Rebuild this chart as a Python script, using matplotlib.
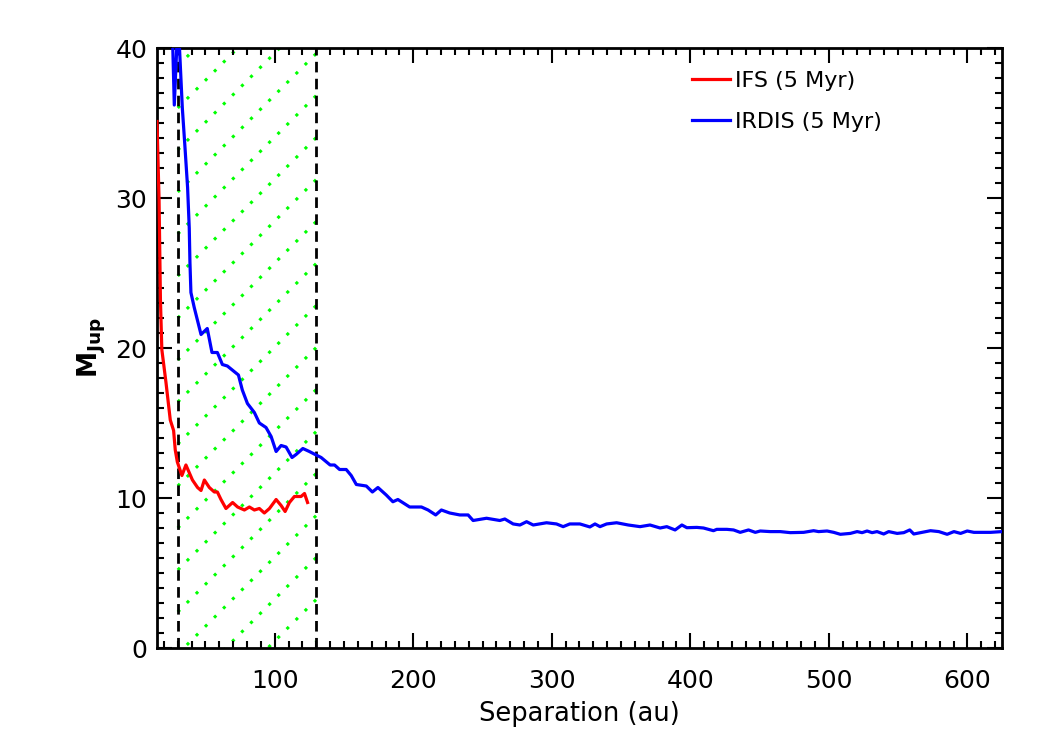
import numpy as np
import matplotlib
matplotlib.use('Agg')
import matplotlib.pyplot as plt

# courbe IFS (5 Myr) - separation en au, masse en M_Jup
ifs_sep = [15.0, 16.5, 17.5, 18.5, 21.5, 24.6, 27.0, 28.2, 29.7, 33.0, 35.9, 40.6, 44.3,
           46.8, 49.2, 52.8, 56.4, 58.6, 61.2, 64.8, 69.6, 73.2, 78.1, 81.7, 85.3, 88.9,
           92.5, 96.2, 101.0, 104.6, 107.5, 110.6, 114.2, 119.0, 121.5, 123.7]
ifs_mass = [35.1, 29.9, 23.2, 19.9, 17.7, 15.2, 14.5, 13.2, 12.4, 11.5, 12.2, 11.2, 10.7,
            10.5, 11.2, 10.7, 10.4, 10.4, 9.9, 9.3, 9.7, 9.4, 9.2, 9.4, 9.2, 9.3,
            9.0, 9.3, 9.9, 9.5, 9.1, 9.7, 10.1, 10.1, 10.3, 9.7]

# courbe IRDIS (5 Myr)
irdis_sep = [26.0, 27.5, 29.5, 31.0, 33.3, 35.2, 37.1, 38.3, 38.8, 39.5, 41.9, 46.8, 51.3,
             54.7, 58.6, 62.2, 65.8, 73.8, 76.6, 80.3, 85.3, 88.9, 93.7, 97.4, 101.0,
             104.6, 108.2, 112.5, 115.4, 120.3, 125.0, 129.2, 133.5, 140.0, 143.2, 146.8,
             151.6, 155.2, 158.9, 166.1, 170.5, 174.5, 180.5, 185.3, 188.9, 197.4, 205.9,
             210.7, 216.2, 220.3, 226.3, 233.6, 239.6, 243.2, 252.9, 262.5, 266.1, 272.1,
             277.0, 281.8, 286.6, 296.2, 303.4, 308.2, 313.0, 320.3, 327.5, 331.2, 334.8,
             339.6, 346.8, 355.2, 363.7, 370.9, 378.2, 383.0, 389.0, 393.9, 397.5, 404.7,
             409.5, 416.7, 419.1, 426.4, 431.2, 436.0, 442.0, 446.9, 450.5, 457.7, 464.9,
             472.2, 481.8, 489.0, 492.6, 498.7, 503.5, 508.3, 515.5, 520.4, 524.0, 527.6,
             531.2, 534.8, 539.6, 543.2, 549.3, 554.1, 558.4, 561.3, 566.2, 573.4, 579.4,
             585.4, 590.3, 595.1, 599.9, 604.7, 609.5, 616.8, 625.0]
irdis_mass = [41.5, 36.2, 40.5, 40.5, 36.0, 33.4, 30.7, 28.0, 25.7, 23.7, 22.7, 20.9, 21.3,
              19.7, 19.7, 18.9, 18.8, 18.2, 17.2, 16.3, 15.7, 15.0, 14.7, 14.1, 13.1,
              13.5, 13.4, 12.7, 12.9, 13.3, 13.1, 12.9, 12.7, 12.2, 12.2, 11.9,
              11.9, 11.5, 10.9, 10.8, 10.4, 10.7, 10.2, 9.75, 9.9, 9.4, 9.4,
              9.2, 8.87, 9.2, 9.0, 8.87, 8.87, 8.5, 8.65, 8.5, 8.6, 8.27,
              8.2, 8.42, 8.2, 8.35, 8.27, 8.09, 8.27, 8.27, 8.07, 8.27, 8.09,
              8.27, 8.35, 8.2, 8.09, 8.2, 8.0, 8.09, 7.87, 8.2, 8.02, 8.04,
              8.0, 7.82, 7.91, 7.91, 7.87, 7.71, 7.87, 7.71, 7.8, 7.76, 7.76,
              7.69, 7.71, 7.82, 7.76, 7.8, 7.71, 7.58, 7.64, 7.76, 7.69, 7.8,
              7.69, 7.76, 7.6, 7.76, 7.64, 7.69, 7.87, 7.6, 7.69, 7.82, 7.76,
              7.58, 7.76, 7.64, 7.8, 7.71, 7.71, 7.71, 7.76]

# zone hachuree entre les deux separations limites
zone = [30, 130]
x_lim = [15, 625]
y_lim = [0, 40]

fig = plt.figure(figsize=(10.5, 7.5), dpi=100)
ax = fig.add_axes([0.1495, 0.136, 0.8048, 0.8])

# hachures vertes en pointilles (45 degres en pixels)
pente = (0.8048 * 1050 / (x_lim[1] - x_lim[0])) / (0.8 * 750 / (y_lim[1] - y_lim[0]))
ecart = 2.8
xs = np.array(zone, dtype=float)
for y0 in np.arange(2.4 - 5 * ecart, 41, ecart):
    ax.plot(xs, y0 + pente * (xs - zone[0]), color='#00ff00', lw=2.2,
            ls=(0, (1, 3.2)), zorder=1)

for xz in zone:
    ax.axvline(xz, color='black', lw=2, ls=(0, (3.8, 2.3)), zorder=2)

ax.plot(ifs_sep, ifs_mass, color='#ff0000', lw=2.3, label='IFS (5 Myr)', zorder=3)
ax.plot(irdis_sep, irdis_mass, color='#0000ff', lw=2.3, label='IRDIS (5 Myr)', zorder=3)

ax.set_xlim(x_lim)
ax.set_ylim(y_lim)
ax.set_xticks([100, 200, 300, 400, 500, 600])
ax.set_xticks(np.arange(20, 621, 10), minor=True)
ax.set_yticks([0, 10, 20, 30, 40])
ax.set_yticks(np.arange(0, 41, 1), minor=True)
ax.tick_params(which='both', direction='in', top=True, right=True, width=1.5)
ax.tick_params(which='major', length=10.8)
ax.tick_params(which='minor', length=5)
ax.tick_params(axis='x', labelsize=18, pad=15)
ax.tick_params(axis='y', labelsize=18, pad=7)
for s in ax.spines.values():
    s.set_linewidth(2)

ax.set_xlabel('Separation (au)', fontsize=18.5, labelpad=6)
ax.set_ylabel(r'$\mathbf{M_{Jup}}$', fontsize=19, labelpad=5)

ax.legend(loc='upper left', bbox_to_anchor=(0.61, 0.995), frameon=False,
          fontsize=16, handlelength=1.7, handletextpad=0.2, labelspacing=0.95)

plt.savefig('out.png', dpi=100)
